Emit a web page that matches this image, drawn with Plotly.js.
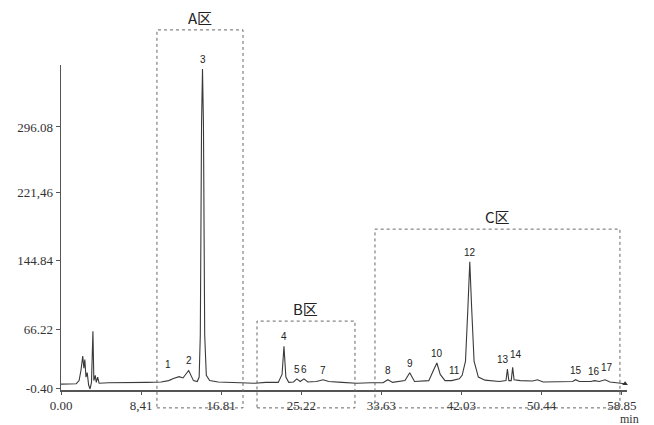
<!DOCTYPE html>
<html>
<head>
<meta charset="utf-8">
<script src="https://cdn.plot.ly/plotly-3.0.1.min.js"></script>
<style>html,body{margin:0;padding:0;background:#fff;}#chart{width:654px;height:425px;}</style>
</head>
<body>
<div id="chart"></div>
<script>
// Chromatogram trace (retention time in min, response)
const traceTime = [0.0,0.5,1.6,1.9,2.1,2.28,2.4,2.5,2.62,2.75,2.9,3.05,3.2,3.35,3.45,3.6,3.7,3.85,4.0,5.0,7.0,9.0,10.5,11.3,11.8,12.4,12.8,13.4,13.9,14.3,14.5,14.62,14.75,14.85,14.95,15.08,15.25,15.6,16.5,18.0,19.5,20.3,21.5,22.8,23.2,23.4,23.6,23.9,24.4,24.75,25.1,25.5,25.9,26.8,27.5,28.1,29.5,31.0,32.5,33.8,34.3,34.8,36.1,36.6,37.1,38.6,39.1,39.45,39.8,40.3,41.0,41.3,41.8,42.1,42.45,42.7,42.9,43.1,43.35,43.8,44.5,46.0,46.7,46.85,47.0,47.25,47.4,47.55,48.2,49.5,50.0,50.6,52.5,53.7,54.0,54.4,55.6,56.0,56.5,57.1,57.6,58.5,59.2];
const traceValue = [4.0,4.0,4.5,8.0,20.0,36.0,22.0,32.0,12.0,17.0,3.0,-1.5,6.0,64.0,8.0,14.0,6.0,12.0,5.0,5.5,5.5,6.0,6.5,8.0,10.5,12.5,11.0,19.5,8.0,7.0,12.0,60.0,300.0,362.0,300.0,60.0,14.0,8.0,6.5,6.0,6.0,5.0,6.0,6.0,15.0,47.0,12.0,6.0,6.5,10.0,7.0,10.0,6.5,7.0,9.0,7.0,6.0,5.0,5.5,5.5,9.0,6.0,8.0,17.0,7.0,8.0,20.0,28.0,15.0,8.0,8.0,9.0,10.0,14.0,30.0,90.0,143.0,90.0,30.0,12.0,8.5,7.0,8.0,21.0,8.0,8.0,23.0,9.0,8.0,7.5,9.0,6.5,7.0,7.0,9.0,7.0,7.0,8.0,7.0,9.0,6.5,5.5,4.5];

// Peak numbering
const peakLabels = ['1','2','3','4','5','6','7','8','9','10','11','12','13','14','15','16','17'];
const peakTimes  = [11.8,13.4,14.85,23.4,24.75,25.5,27.5,34.3,36.6,39.45,41.3,42.9,46.85,47.4,54.0,56.0,57.1];
const peakHeights= [10.5,19.5,362.0,47.0,10.0,10.0,9.0,9.0,17.0,28.0,9.0,143.0,21.0,23.0,9.0,8.0,9.0];

// Axis ticks
const xTickVals = [0.00,8.41,16.81,25.22,33.63,42.03,50.44,58.85];
const xTickText = ['0.00','8,41','16.81','25.22','33.63','42.03','50.44','58.85'];
const yTickVals = [-0.40,66.22,144.84,221.46,296.08];
const yTickText = ['-0.40','66.22','144.84','221,46','296.08'];

// Marked regions
const regionNames = ['A区','B区','C区'];
const regionStart = [10.07,20.57,32.95];
const regionEnd   = [19.1,30.85,58.66];
const regionTop   = [1.108,0.212,0.495];

// label nudges (pixels) for crowded peak numbers
const labelNudge = {'1':[-5,4], '13':[-4,0], '14':[3,3], '16':[-1,0], '17':[2,3]};

const traces = [
  {x: traceTime, y: traceValue, type:'scatter', mode:'lines',
   line:{color:'#3a3a3a', width:1.1}, hoverinfo:'skip', showlegend:false},
  {x: [traceTime[traceTime.length-1]], y: [traceValue[traceValue.length-1]], type:'scatter', mode:'markers',
   marker:{symbol:'triangle-up', size:5, color:'#333'}, showlegend:false, hoverinfo:'skip', cliponaxis:false}
];

const serif = "Times New Roman";
const annotations = peakLabels.map((lab,i)=>{
  const n = labelNudge[lab] || [0,0];
  return {
    x: peakTimes[i], y: peakHeights[i], xref:'x', yref:'y', text: lab, showarrow:false,
    yanchor:'bottom', yshift: 2 + n[1], xshift: n[0],
    font:{family:"Arial", size:10, color:'#222'}
  };
});
const shapes = [];
regionNames.forEach((name,i)=>{
  shapes.push({type:'rect', xref:'x', yref:'paper', x0: regionStart[i], x1: regionEnd[i],
    y0: -0.055, y1: regionTop[i], line:{color:'#666', width:1, dash:'dot'}, fillcolor:'rgba(0,0,0,0)'});
  annotations.push({x:(regionStart[i]+regionEnd[i])/2, y: regionTop[i], xref:'x', yref:'paper',
    text:name, showarrow:false, yanchor:'bottom', yshift:0,
    font:{family:"Noto Sans CJK SC", size:15, color:'#222'}});
});
annotations.push({x:1.0, y:0, xref:'paper', yref:'paper', text:'min', showarrow:false,
  xanchor:'center', yanchor:'top', yshift:-20, xshift:2,
  font:{family:serif, size:12, color:'#333'}});

const layout = {
  width:654, height:425,
  font:{family:serif},
  margin:{l:61, r:27, t:65, b:35},
  paper_bgcolor:'#fff', plot_bgcolor:'#fff',
  showlegend:false,
  xaxis:{range:[0,59.4], tickvals:xTickVals, ticktext:xTickText, showgrid:false, zeroline:false,
    showline:true, linecolor:'#555', linewidth:1.5, ticks:'outside', ticklen:3, tickcolor:'#555',
    tickfont:{family:serif, size:13, color:'#333'}},
  yaxis:{range:[-2.67,366.5], tickvals:yTickVals, ticktext:yTickText, showgrid:false, zeroline:false,
    showline:true, linecolor:'#555', linewidth:1.5, ticks:'outside', ticklen:4, tickcolor:'#555',
    tickfont:{family:serif, size:13, color:'#333'}},
  shapes: shapes,
  annotations: annotations
};
Plotly.newPlot('chart', traces, layout, {staticPlot:true, displayModeBar:false});
</script>
</body>
</html>
